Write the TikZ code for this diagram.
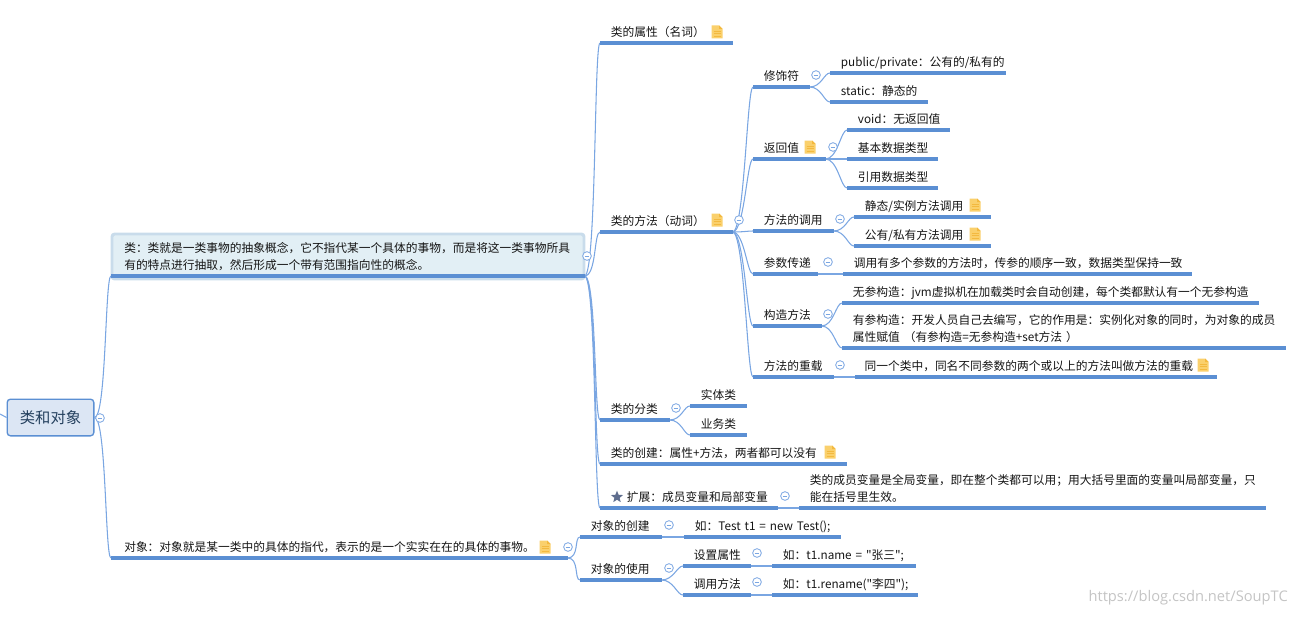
\documentclass[tikz,border=0pt]{standalone}
\usepackage{fontspec}
\newfontfamily\cnfont{Noto Sans CJK SC}
\newfontfamily\markfont{Open Sans}
\usetikzlibrary{shapes.geometric}

\definecolor{linecol}{HTML}{5B8FD3}
\definecolor{linkcol}{HTML}{7AA6E2}
\definecolor{inkcol}{HTML}{151515}
\definecolor{rootfill}{HTML}{DCE6F4}
\definecolor{rootink}{HTML}{24405E}
\definecolor{halofill}{HTML}{E2EFF5}
\definecolor{halodraw}{HTML}{C9DCEB}
\definecolor{notefill}{HTML}{FAD06C}
\definecolor{notedraw}{HTML}{F3B93F}
\definecolor{starfill}{HTML}{5F6E8E}
\definecolor{markcol}{HTML}{C4C4C4}

\tikzset{
    under/.style={draw=linecol, line width=2.8pt},
    topic/.style={anchor=south west, inner xsep=8pt, inner ysep=2.6pt,
        align=left, text=inkcol, font=\cnfont\fontsize{8.8}{12.5}\selectfont,
        execute at begin node={\rule{0pt}{8pt}},
        execute at end node={\rule[-2pt]{0pt}{2pt}}},
    wide/.style={text width=#1*0.75pt-16pt},
    link/.style={draw=linkcol, line width=0.8pt},
    branch/.style={out=0, in=180, out distance=9pt, in distance=4.5pt},
    fold/.style={circle, draw=linkcol, fill=white, line width=0.6pt, inner sep=0pt,
        minimum size=6.5pt, path picture={
            \draw[linkcol, line width=0.6pt] ([xshift=-1.8pt]path picture bounding box.center)
                -- ([xshift=1.8pt]path picture bounding box.center);}},
    notepage/.pic={
        \fill[notefill] (-5.5, -6.5) -- (2, -6.5) -- (5.5, -3) -- (5.5, 6.5) -- (-5.5, 6.5) -- cycle;
        \fill[notedraw] (2, -6.5) -- (2, -3) -- (5.5, -3) -- cycle;
        \draw[notedraw, line width=0.5pt] (-3.5, -1) -- (3.5, -1) (-3.5, 1.5) -- (3.5, 1.5) (-3.5, 4) -- (3.5, 4);
    }
}

\begin{document}
\begin{tikzpicture}[x=0.75pt, y=-0.75pt]
    \useasboundingbox (0, 0) rectangle (1296, 617);

    % Draw the root
    \node[rectangle, rounded corners=2.5pt, draw=linecol, fill=rootfill, line width=1pt,
        minimum width=65pt, minimum height=27.5pt, text=rootink,
        font=\cnfont\fontsize{11.5}{13}\selectfont] (root) at (50.5, 417.5) {类和对象};
    \coordinate (stub) at (0, 414);
    \draw[link] (stub) to[out=0, in=180] (root.west);

    % Draw the first level
    \draw[draw=halodraw, fill=halofill, line width=2.2pt, rounded corners=2pt] (112, 234) rectangle (584, 279);
    \node[topic, inner xsep=9.75pt, text width=335.25pt] (cls) at (111, 276)
        {类：类就是一类事物的抽象概念，它不指代某一个具体的事物，而是将这一类事物所具\\有的特点进行抽取，然后形成一个带有范围指向性的概念。};
    \node[topic, inner xsep=9.75pt, text width=322.5pt] (obj) at (111, 558)
        {对象：对象就是某一类中的具体的指代，表示的是一个实实在在的具体的事物。};

    % Draw the parts of a class
    \node[topic, wide=132] (attr) at (600, 43) {类的属性（名词）};
    \node[topic, wide=132] (meth) at (600, 232) {类的方法（动词）};
    \node[topic, wide=69] (kind) at (600, 420) {类的分类};
    \node[topic, wide=246] (make) at (600, 464) {类的创建：属性+方法，两者都可以没有};
    \node[topic, wide=177] (ext) at (600, 508) {\hspace*{12pt}扩展：成员变量和局部变量};
    \node[topic, wide=466] (extnote) at (799, 508)
        {类的成员变量是全局变量，即在整个类都可以用；用大括号里面的变量叫局部变量，只\\能在括号里生效。};
    \node[star, star points=5, star point ratio=2.3, fill=starfill, inner sep=0pt,
        minimum size=9.5pt] (extstar) at (617, 497) {};

    % Draw the parts of a method
    \node[topic, wide=56] (mod) at (753, 87) {修饰符};
    \node[topic, wide=175] (modpub) at (830, 73) {public/private：公有的/私有的};
    \node[topic, wide=97] (modstat) at (830, 102) {static：静态的};
    \node[topic, wide=72] (ret) at (753, 159) {返回值};
    \node[topic, wide=102] (retvoid) at (847, 130) {void：无返回值};
    \node[topic, wide=90] (retbasic) at (847, 159) {基本数据类型};
    \node[topic, wide=90] (retref) at (847, 188) {引用数据类型};
    \node[topic, wide=80] (call) at (753, 231) {方法的调用};
    \node[topic, wide=136] (callstat) at (854, 217) {静态/实例方法调用};
    \node[topic, wide=136] (callpub) at (854, 246) {公有/私有方法调用};
    \node[topic, wide=64] (param) at (753, 274) {参数传递};
    \node[topic, wide=348] (paramnote) at (843, 274) {调用有多个参数的方法时，传参的顺序一致，数据类型保持一致};
    \node[topic, wide=68] (ctor) at (753, 326) {构造方法};
    \node[topic, wide=416] (ctornone) at (842, 303) {无参构造：jvm虚拟机在加载类时会自动创建，每个类都默认有一个无参构造};
    \node[topic, wide=443] (ctorarg) at (842, 348)
        {有参构造：开发人员自己去编写，它的作用是：实例化对象的同时，为对象的成员\\属性赋值~（有参构造=无参构造+set方法~）};
    \node[topic, wide=80] (over) at (753, 377) {方法的重载};
    \node[topic, wide=364, inner xsep=7pt] (overnote) at (855, 377) {同一个类中，同名不同参数的两个或以上的方法叫做方法的重载};

    % Draw the kinds of class
    \node[topic, wide=56] (entity) at (690, 406) {实体类};
    \node[topic, wide=56] (biz) at (690, 435) {业务类};

    % Draw the parts of an object
    \node[topic, wide=81] (objmake) at (580, 537) {对象的创建};
    \node[topic, wide=156] (objmakenote) at (684, 537) {如：Test~t1~=~new~Test();};
    \node[topic, wide=81] (objuse) at (580, 580) {对象的使用};
    \node[topic, wide=67] (objset) at (683, 566) {设置属性};
    \node[topic, wide=143] (objsetval) at (772, 566) {如：t1.name~=~"张三";};
    \node[topic, wide=67] (objcall) at (683, 595) {调用方法};
    \node[topic, wide=145] (objcallval) at (772, 595) {如：t1.rename("李四");};

    % Draw the connectors
    \draw[link] (root.east) to[branch] (cls.south west);
    \draw[link] (root.east) to[branch] (obj.south west);
    \draw[link] (cls.south east) to[branch] (attr.south west);
    \draw[link] (cls.south east) to[branch] (meth.south west);
    \draw[link] (cls.south east) to[branch] (kind.south west);
    \draw[link] (cls.south east) to[branch] (make.south west);
    \draw[link] (cls.south east) to[branch] (ext.south west);
    \draw[link] (ext.south east) to[branch] (extnote.south west);
    \draw[link] (meth.south east) to[branch] (mod.south west);
    \draw[link] (meth.south east) to[branch] (ret.south west);
    \draw[link] (meth.south east) to[branch] (call.south west);
    \draw[link] (meth.south east) to[branch] (param.south west);
    \draw[link] (meth.south east) to[branch] (ctor.south west);
    \draw[link] (meth.south east) to[branch] (over.south west);
    \draw[link] (mod.south east) to[branch] (modpub.south west);
    \draw[link] (mod.south east) to[branch] (modstat.south west);
    \draw[link] (ret.south east) to[branch] (retvoid.south west);
    \draw[link] (ret.south east) to[branch] (retbasic.south west);
    \draw[link] (ret.south east) to[branch] (retref.south west);
    \draw[link] (call.south east) to[branch] (callstat.south west);
    \draw[link] (call.south east) to[branch] (callpub.south west);
    \draw[link] (param.south east) to[branch] (paramnote.south west);
    \draw[link] (ctor.south east) to[branch] (ctornone.south west);
    \draw[link] (ctor.south east) to[branch] (ctorarg.south west);
    \draw[link] (over.south east) to[branch] (overnote.south west);
    \draw[link] (kind.south east) to[branch] (entity.south west);
    \draw[link] (kind.south east) to[branch] (biz.south west);
    \draw[link] (obj.south east) to[branch] (objmake.south west);
    \draw[link] (obj.south east) to[branch] (objuse.south west);
    \draw[link] (objmake.south east) to[branch] (objmakenote.south west);
    \draw[link] (objuse.south east) to[branch] (objset.south west);
    \draw[link] (objuse.south east) to[branch] (objcall.south west);
    \draw[link] (objset.south east) to[branch] (objsetval.south west);
    \draw[link] (objcall.south east) to[branch] (objcallval.south west);

    % Draw the underlines
    \foreach \name in {cls, obj, attr, meth, kind, make, ext, extnote, mod, modpub, modstat, ret,
        retvoid, retbasic, retref, call, callstat, callpub, param, paramnote, ctor, ctornone,
        ctorarg, over, overnote, entity, biz, objmake, objmakenote, objuse, objset, objsetval,
        objcall, objcallval}
        \draw[under] (\name.south west) -- (\name.south east);

    % Draw the collapse marks
    \node[fold] (foldroot) at (100, 418) {};
    \node[fold] (foldcls) at (587, 256) {};
    \node[fold] (foldobj) at (568, 547) {};
    \node[fold] (foldmeth) at (739, 220) {};
    \node[fold] (foldkind) at (676, 408) {};
    \node[fold] (foldext) at (785, 496) {};
    \node[fold] (foldmod) at (816, 75) {};
    \node[fold] (foldret) at (833, 147) {};
    \node[fold] (foldcall) at (840, 219) {};
    \node[fold] (foldparam) at (828, 262) {};
    \node[fold] (foldctor) at (828, 314) {};
    \node[fold] (foldover) at (840, 365) {};
    \node[fold] (foldmake) at (669, 525) {};
    \node[fold] (folduse) at (669, 568) {};
    \node[fold] (foldset) at (757, 553) {};
    \node[fold] (foldrun) at (757, 582) {};

    % Draw the note icons
    \pic at (717, 32) {notepage};
    \pic at (717, 220) {notepage};
    \pic at (830, 452) {notepage};
    \pic at (810, 147) {notepage};
    \pic at (975, 205) {notepage};
    \pic at (975, 234) {notepage};
    \pic at (1203, 365) {notepage};
    \pic at (545, 547) {notepage};

    \node[anchor=east, text=markcol, inner sep=0pt, font=\markfont\fontsize{11}{13}\selectfont] (mark) at (1288, 598)
        {https://blog.csdn.net/SoupTC};
\end{tikzpicture}
\end{document}
